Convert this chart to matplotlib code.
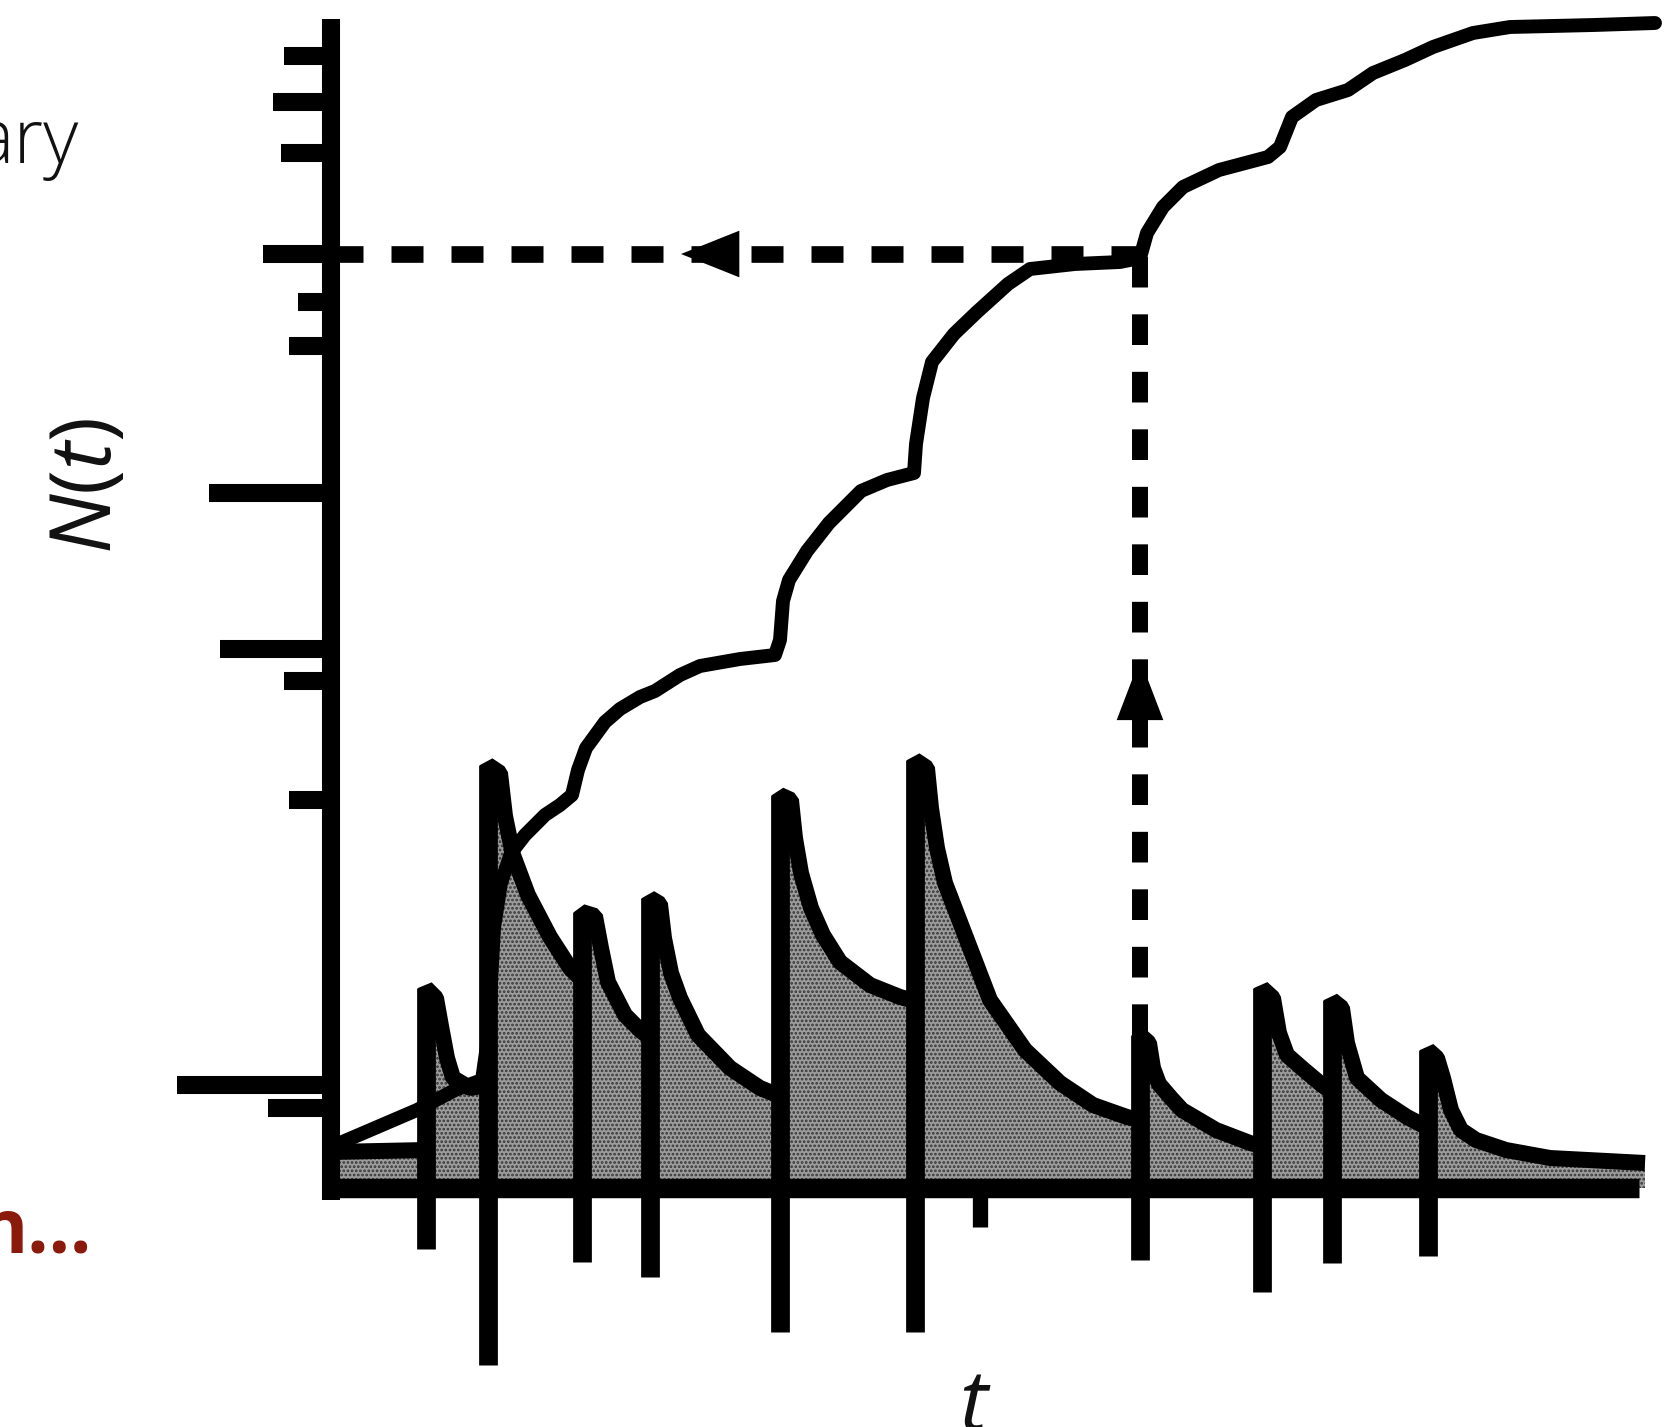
import matplotlib
matplotlib.use('Agg')
import matplotlib.pyplot as plt

plt.rcParams['mathtext.fontset'] = 'custom'
plt.rcParams['mathtext.rm'] = 'Open Sans'
plt.rcParams['mathtext.it'] = 'Open Sans:italic'
plt.rcParams['hatch.linewidth'] = 1.3

# events: time, peak of the rate after the jump, length of the mark under the axis
event_t    = [0.95, 1.57, 2.51, 3.19, 4.49, 5.84, 8.09, 9.31, 10.01, 10.97]
event_peak = [2.00, 4.23, 2.76, 2.90, 3.93, 4.28, 1.53, 2.00, 1.88, 1.38]
event_low  = [-0.61, -1.77, -0.74, -0.89, -1.44, -1.44, -0.72, -1.04, -0.75, -0.68]
stray_t    = [6.49]
stray_low  = [-0.39]

# rate lambda(t), traced outline (jumps repeat the time value)
lam_t = [0.00, 0.95, 0.95, 1.05, 1.10, 1.16, 1.22, 1.39, 1.57,
         1.57, 1.69, 1.74, 1.82, 1.97, 2.19, 2.39, 2.51,
         2.51, 2.64, 2.70, 2.77, 2.94, 3.09, 3.19,
         3.19, 3.29, 3.33, 3.40, 3.49, 3.67, 3.99, 4.29, 4.49,
         4.49, 4.60, 4.64, 4.70, 4.80, 4.92, 5.09, 5.39, 5.69, 5.84,
         5.84, 5.96, 6.00, 6.06, 6.14, 6.34, 6.59, 6.94, 7.29, 7.62, 7.96, 8.09,
         8.09, 8.18, 8.22, 8.28, 8.40, 8.51, 8.85, 9.19, 9.31,
         9.31, 9.42, 9.48, 9.56, 9.72, 9.91, 10.01,
         10.01, 10.11, 10.16, 10.26, 10.50, 10.76, 10.97,
         10.97, 11.06, 11.12, 11.20, 11.30, 11.45, 11.75, 12.19, 13.14]
lam_v = [0.36, 0.38, 2.00, 1.90, 1.62, 1.30, 1.10, 1.00, 1.03,
         4.23, 4.15, 3.72, 3.33, 2.93, 2.51, 2.20, 2.08,
         2.76, 2.72, 2.40, 2.06, 1.73, 1.58, 1.50,
         2.90, 2.84, 2.50, 2.15, 1.90, 1.53, 1.20, 1.00, 0.92,
         3.93, 3.88, 3.50, 3.15, 2.80, 2.53, 2.26, 2.03, 1.91, 1.87,
         4.28, 4.20, 3.80, 3.40, 3.05, 2.53, 1.88, 1.38, 1.05, 0.83, 0.71, 0.68,
         1.53, 1.45, 1.20, 1.04, 0.90, 0.78, 0.58, 0.45, 0.42,
         2.00, 1.90, 1.55, 1.33, 1.19, 1.03, 0.96,
         1.88, 1.80, 1.45, 1.10, 0.88, 0.71, 0.60,
         1.38, 1.30, 1.10, 0.78, 0.58, 0.48, 0.38, 0.30, 0.25]

# cumulative N(t), traced
N_t = [0.09, 0.86, 1.24, 1.51, 1.57, 1.63, 1.70, 1.80, 1.94, 2.14, 2.29, 2.41, 2.47,
       2.55, 2.74, 2.89, 3.09, 3.24, 3.49, 3.69, 4.09, 4.44, 4.49, 4.52, 4.58,
       4.76, 4.98, 5.30, 5.56, 5.83, 5.85, 5.92, 6.01, 6.23, 6.46, 6.77, 6.99,
       7.44, 7.89, 8.09, 8.16, 8.32, 8.52, 8.88, 9.37, 9.49, 9.61, 9.85, 10.17,
       10.42, 10.74, 11.02, 11.42, 11.79, 12.63, 13.24]
N_v = [0.45, 0.78, 0.98, 1.08, 1.50, 2.60, 3.05, 3.35, 3.53, 3.73, 3.83, 3.93, 4.18,
       4.40, 4.66, 4.79, 4.91, 4.97, 5.13, 5.22, 5.29, 5.33, 5.48, 5.87, 6.08,
       6.37, 6.65, 6.97, 7.08, 7.15, 7.44, 7.90, 8.26, 8.54, 8.76, 9.04, 9.19,
       9.24, 9.26, 9.30, 9.55, 9.81, 10.01, 10.18, 10.31, 10.41, 10.71, 10.88, 10.98,
       11.15, 11.28, 11.41, 11.55, 11.61, 11.63, 11.65]

# marks on the N axis: level and how far they reach left
ytick_v    = [11.32, 10.86, 10.35, 9.34, 8.86, 8.42, 6.95, 5.39, 5.07, 3.88, 1.03, 0.80]
ytick_left = [-0.47, -0.58, -0.50, -0.68, -0.33, -0.42, -1.22, -1.11, -0.47, -0.42, -1.54, -0.63]

pick_t = 8.09      # event that is mapped
pick_N = 9.34      # its N value
arrow_left_t = 3.50
arrow_up_v = 5.29

t_end = 13.08
N_top = 11.69

fig = plt.figure(figsize=(16.81, 14.27), dpi=100)
ax = fig.add_axes([0, 0, 1, 1])
ax.set_xlim(-3.31, 13.50)
ax.set_ylim(-2.39, 11.88)
ax.axis('off')

# shaded area under the rate
ax.fill_between(lam_t, 0, lam_v, facecolor='#9c9c9c', edgecolor='#353535',
                hatch='....', linewidth=0, zorder=1)
ax.plot(lam_t, lam_v, color='black', lw=11.5, solid_joinstyle='bevel',
        solid_capstyle='butt', zorder=3)
ax.plot(N_t, N_v, color='black', lw=10, solid_joinstyle='round',
        solid_capstyle='round', zorder=3)

# event lines through the axis
ax.vlines(event_t, event_low, event_peak, color='black', lw=13.5, zorder=4,
          capstyle='butt')
ax.vlines(stray_t, stray_low, 0, color='black', lw=11, zorder=4, capstyle='butt')

# axes
ax.plot([-0.09, t_end], [0, 0], color='black', lw=14, solid_capstyle='butt', zorder=5)
ax.plot([0, 0], [-0.12, N_top], color='black', lw=13, solid_capstyle='butt', zorder=5)
ax.hlines(ytick_v, ytick_left, 0, color='black', lw=13, zorder=5, capstyle='butt')

# dashed mapping lines
ax.plot([0, pick_t], [pick_N, pick_N], color='black', lw=12, dashes=(1.92, 1.68),
        dash_capstyle='butt', zorder=4)
ax.plot([pick_t, pick_t], [event_peak[6], pick_N], color='black', lw=11.5,
        dashes=(1.92, 1.68), dash_capstyle='butt', zorder=4)
ax.annotate('', xy=(arrow_left_t, pick_N), xytext=(arrow_left_t + 0.58, pick_N),
            arrowprops=dict(arrowstyle='-|>,head_length=1.05,head_width=0.42',
                            mutation_scale=40, lw=0, color='black',
                            shrinkA=0, shrinkB=0), zorder=6)
ax.annotate('', xy=(pick_t, arrow_up_v), xytext=(pick_t, arrow_up_v - 0.62),
            arrowprops=dict(arrowstyle='-|>,head_length=1.1,head_width=0.42',
                            mutation_scale=40, lw=0, color='black',
                            shrinkA=0, shrinkB=0), zorder=6)

# labels
fig.text(0.0518, 0.6594, r'$N(t)$', rotation=90, ha='center', va='center',
         fontsize=61, color='#111111')
fig.text(0.580, -0.002, r'$t$', ha='center', va='baseline', fontsize=61,
         color='#111111')
fig.text(0.047, 0.8858, 'ary', ha='right', va='baseline', fontsize=55,
         family='Open Sans', fontweight='light', color='#111111')
fig.text(0.0547, 0.1226, 'n...', ha='right', va='baseline', fontsize=54,
         family='Open Sans', fontweight='bold', color='#8a1a0c')

fig.savefig('out.png', dpi=100, facecolor='white')
